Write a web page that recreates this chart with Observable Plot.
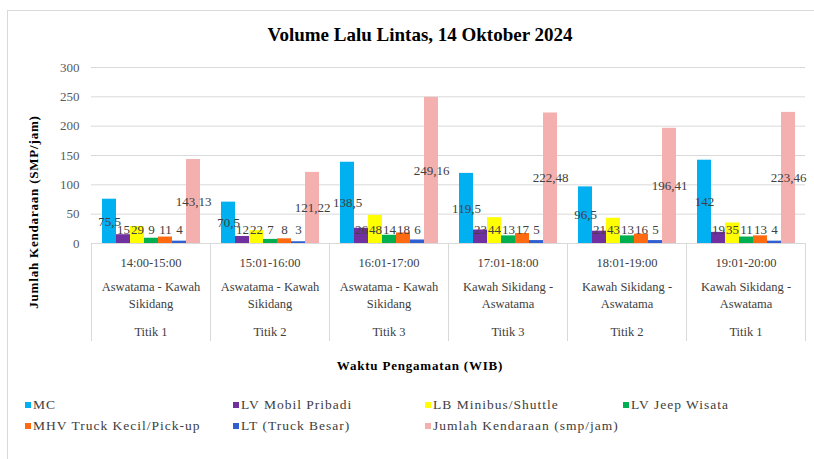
<!DOCTYPE html>
<html>
<head>
<meta charset="utf-8">
<script src="https://cdn.jsdelivr.net/npm/d3@7"></script>
<script src="https://cdn.jsdelivr.net/npm/@observablehq/plot@0.6"></script>
<style>
  html, body { margin: 0; padding: 0; background: #fff; }
  #wrap { position: relative; width: 814px; height: 459px; overflow: hidden; font-family: "Liberation Serif", "Times New Roman", serif; }
  #box { position: absolute; left: 7px; top: 10px; width: 820px; height: 470px; border: 1px solid #d9d9d9; box-sizing: border-box; }
  #title { position: absolute; left: 7px; width: 826px; top: 24px; text-align: center; font-weight: bold; font-size: 19px; color: #000; }
  #ytitle { position: absolute; left: 34px; top: 212px; transform: translate(-50%, -50%) rotate(-90deg); white-space: nowrap; font-weight: bold; font-size: 13px; letter-spacing: 0.8px; color: #000; }
  #xtitle { position: absolute; left: 0; width: 840px; top: 358px; text-align: center; font-weight: bold; font-size: 13px; letter-spacing: 0.8px; color: #000; }
  #chart { position: absolute; left: 0; top: 0; }
  #legend { position: absolute; left: 25px; top: 397px; display: grid; grid-template-columns: 208px 192px 198px 180px; row-gap: 5px; font-size: 13.5px; letter-spacing: 1px; color: #404040; }
  .item { display: flex; align-items: center; white-space: nowrap; height: 16px; }
  .sw { width: 6px; height: 6px; margin-right: 2px; display: inline-block; }
</style>
</head>
<body>
<div id="wrap">
  <div id="box"></div>
  <div id="title">Volume Lalu Lintas, 14 Oktober 2024</div>
  <div id="chart"></div>
  <div id="ytitle">Jumlah Kendaraan (SMP/jam)</div>
  <div id="xtitle">Waktu Pengamatan (WIB)</div>
  <div id="legend"></div>
</div>
<script>
// ---- data ----
const times = ["14:00-15:00", "15:01-16:00", "16:01-17:00", "17:01-18:00", "18:01-19:00", "19:01-20:00"];
const routes = ["Aswatama - Kawah\nSikidang", "Aswatama - Kawah\nSikidang", "Aswatama - Kawah\nSikidang",
                "Kawah Sikidang -\nAswatama", "Kawah Sikidang -\nAswatama", "Kawah Sikidang -\nAswatama"];
const points = ["Titik 1", "Titik 2", "Titik 3", "Titik 3", "Titik 2", "Titik 1"];
const series = ["MC", "LV Mobil Pribadi", "LB Minibus/Shuttle", "LV Jeep Wisata", "MHV Truck Kecil/Pick-up", "LT (Truck Besar)", "Jumlah Kendaraan (smp/jam)"];
const colors = ["#00b0f0", "#7030a0", "#ffff00", "#00b050", "#ff6a10", "#2f5fd0", "#f4afaf"];
const mc      = [75.5, 70.5, 138.5, 119.5, 96.5, 142];
const lvMobil = [15, 12, 26, 23, 21, 19];
const lbBus   = [29, 22, 48, 44, 43, 35];
const lvJeep  = [9, 7, 14, 13, 13, 11];
const mhv     = [11, 8, 18, 17, 16, 13];
const lt      = [4, 3, 6, 5, 5, 4];
const jumlah  = [143.13, 121.22, 249.16, 222.48, 196.41, 223.46];
const yTicks  = [0, 50, 100, 150, 200, 250, 300];

const seriesValues = [mc, lvMobil, lbBus, lvJeep, mhv, lt, jumlah];
const rows = [];
times.forEach((t, i) => series.forEach((s, j) => rows.push({group: t, series: s, value: seriesValues[j][i]})));
const groups = times.map((t, i) => ({group: t, route: routes[i], point: points[i]}));
const fmt = v => String(v).replace(".", ",");

const chart = Plot.plot({
  width: 814,
  height: 345,
  marginLeft: 88,
  marginRight: 7,
  marginTop: 67,
  marginBottom: 102,
  style: {fontFamily: "Liberation Serif, Times New Roman, serif", fontSize: "11px", color: "#595959", background: "transparent"},
  fx: {domain: times, padding: 0, axis: null},
  x: {domain: series, paddingInner: 0, paddingOuter: 0.65, axis: null},
  y: {domain: [0, 300], axis: null},
  color: {domain: series, range: colors},
  marks: [
    Plot.gridY(yTicks, {stroke: "#d9d9d9", strokeOpacity: 1}),
    Plot.axisY(yTicks, {tickSize: 0, tickPadding: 12, label: null, fill: "#595959", fontSize: 13, letterSpacing: "1.5px"}),
    Plot.barY(rows, {fx: "group", x: "series", y: "value", fill: "series"}),
    Plot.text(rows, {fx: "group", x: "series", y: d => Math.max(d.value / 2, 24), text: d => fmt(d.value), fontSize: 13, fill: "#404040"}),
    Plot.frame({anchor: "left", stroke: "#d9d9d9", strokeOpacity: 1, insetTop: 176, insetBottom: -97}),
    Plot.frame({anchor: "right", stroke: "#d9d9d9", strokeOpacity: 1, insetTop: 176, insetBottom: -97}),
    Plot.text(groups, {fx: "group", text: "group", frameAnchor: "bottom", dy: 23, fontSize: 12.5, fill: "#404040"}),
    Plot.text(groups, {fx: "group", text: "route", frameAnchor: "bottom", dy: 64, fontSize: 12.5, lineHeight: 1.3, fill: "#404040"}),
    Plot.text(groups, {fx: "group", text: "point", frameAnchor: "bottom", dy: 92, fontSize: 12.5, fill: "#404040"})
  ]
});
document.getElementById("chart").appendChild(chart);

const legend = document.getElementById("legend");
series.forEach((s, i) => {
  const it = document.createElement("div");
  it.className = "item";
  const sw = document.createElement("span");
  sw.className = "sw";
  sw.style.background = colors[i];
  it.appendChild(sw);
  it.appendChild(document.createTextNode(s));
  legend.appendChild(it);
});
</script>
</body>
</html>
